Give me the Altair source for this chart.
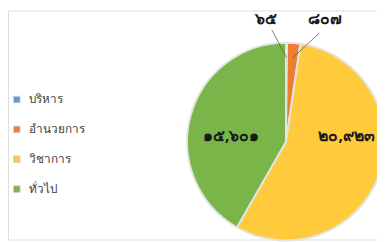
import altair as alt
import pandas as pd

# ---- data ----
categories = ["บริหาร", "อำนวยการ", "วิชาการ", "ทั่วไป"]
values = [65, 807, 20923, 15601]
colors = ["#5B9BD5", "#ED7D31", "#FFCB3C", "#79B548"]

THAI_DIGITS = str.maketrans("0123456789", "๐๑๒๓๔๕๖๗๘๙")
labels = [f"{v:,}".translate(THAI_DIGITS) for v in values]

df = pd.DataFrame({
    "cat": categories,
    "value": values,
    "label": labels,
    "order": list(range(len(categories))),
})

# ---- layout ----
W, H = 377, 234
CX, CY, R = 284, 134, 101
FONT = "Tahoma, 'Noto Sans', sans-serif"

base = (
    alt.Chart(df)
    .transform_joinaggregate(total="sum(value)")
    .transform_window(cum="sum(value)", sort=[alt.SortField("order")])
    .transform_calculate(
        mid="2*PI*(datum.cum - datum.value/2)/datum.total",
        frac="datum.value/datum.total",
        side="datum.order % 2 == 0 ? -1 : 1",
    )
)

pie = base.mark_arc(radius=R, stroke="#E4E4E4", strokeWidth=2).encode(
    theta=alt.Theta("value:Q", stack=True),
    order=alt.Order("order:Q"),
    color=alt.Color(
        "cat:N",
        scale=alt.Scale(domain=categories, range=colors),
        sort=categories,
        legend=alt.Legend(
            title=None,
            orient="none",
            legendX=3,
            legendY=85,
            symbolType="square",
            symbolSize=45,
            symbolStrokeColor="#D0D0D0",
            symbolStrokeWidth=1,
            labelFont=FONT,
            labelFontSize=12,
            labelColor="#404040",
            labelOffset=6,
            rowPadding=18.5,
        ),
    ),
    x=alt.value(CX),
    y=alt.value(CY),
)

big_labels = (
    base.transform_filter("datum.frac >= 0.1")
    .transform_calculate(
        lx=f"{CX} + (sin(datum.mid) > 0 ? 62 : -56)",
        ly=f"{CY} - 6",
    )
    .mark_text(font=FONT, fontSize=16, fontWeight="bold", color="#1A1A1A", align="center", baseline="middle")
    .encode(
        x=alt.X("lx:Q", scale=None),
        y=alt.Y("ly:Q", scale=None),
        text="label:N",
    )
)

small = base.transform_filter("datum.frac < 0.1").transform_calculate(
    ix=f"{CX} + sin(datum.mid)*{R}*0.85",
    iy=f"{CY} - cos(datum.mid)*{R}*0.85",
    ox=f"{CX} + sin(datum.mid)*{R}*1.13 + datum.side*20 + 5",
    oy=f"{CY} - cos(datum.mid)*{R}*1.13 + (datum.side > 0 ? 3 : 0)",
    tx="datum.ox + datum.side*6",
    ty=f"{CY} - {R}*1.13 - 3",
)

leaders = small.mark_rule(color="#595959", strokeWidth=0.8).encode(
    x=alt.X("ix:Q", scale=None),
    y=alt.Y("iy:Q", scale=None),
    x2="ox:Q",
    y2="oy:Q",
)

small_labels = small.mark_text(
    font=FONT, fontSize=16, fontWeight="bold", color="#1A1A1A", align="center", baseline="bottom"
).encode(
    x=alt.X("tx:Q", scale=None),
    y=alt.Y("ty:Q", scale=None),
    text="label:N",
)

chart = (
    alt.layer(pie, leaders, big_labels, small_labels)
    .properties(width=W, height=H, padding=0, autosize=alt.AutoSizeParams(type="none"))
    .configure_view(strokeWidth=0, stroke="transparent")
    .configure(background="white")
)

chart.save("out.html", embed_options={"renderer": "svg", "actions": False})
